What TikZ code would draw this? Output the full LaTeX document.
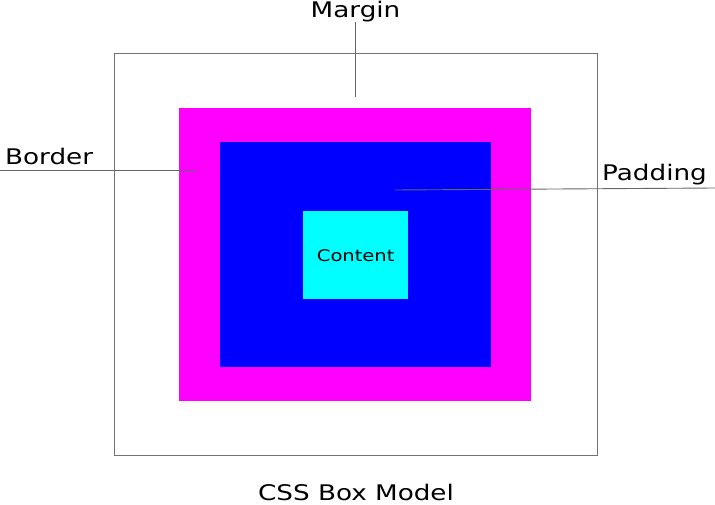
\documentclass[tikz,border=0pt]{standalone}
\usepackage{fontspec}
\setmainfont{DejaVu Sans}[FakeStretch=1.22]
\definecolor{bordermag}{RGB}{255,0,255}
\definecolor{padblue}{RGB}{0,0,255}
\definecolor{contcyan}{RGB}{0,255,255}

\begin{document}
\begin{tikzpicture}[x=1pt,y=-1pt,
    box/.style={rectangle,inner sep=0pt,anchor=north west},
    lab/.style={font=\fontsize{21.5}{24}\selectfont,inner sep=0pt},
    pointer/.style={draw=black!60,line width=0.9pt}]
  \useasboundingbox (0,0) rectangle (715,505);

  % nested boxes
  \node[box,draw=black!55,line width=0.8pt,minimum width=483pt,minimum height=402pt] (margin) at (114,53) {};
  \node[box,fill=bordermag,minimum width=352pt,minimum height=293pt] (border) at (179,108) {};
  \node[box,fill=padblue,minimum width=271pt,minimum height=225pt] (padding) at (220,142) {};
  \node[box,fill=contcyan,minimum width=105pt,minimum height=88pt,
        font=\fontsize{16}{18}\selectfont] (content) at (303,211) {Content};

  % labels
  \node[lab,anchor=base] (marginlab) at (355.5,17.5) {Margin};
  \node[lab,anchor=base west] (borderlab) at (5,165) {Border};
  \node[lab,anchor=base west] (paddinglab) at (602,181) {Padding};
  \node[lab,anchor=base] (title) at (356,500) {CSS Box Model};

  \coordinate (marginpt) at (355,97);
  \coordinate (borderend) at (0,170);
  \coordinate (borderpt) at (196,170);
  \coordinate (paddingpt) at (395,190);
  \coordinate (paddingend) at (715,188);

  \draw[pointer] (marginpt |- marginlab.south) -- (marginpt);
  \draw[pointer] (borderend) -- (borderpt);
  \draw[pointer] (paddingpt) -- (paddingend);
\end{tikzpicture}
\end{document}
